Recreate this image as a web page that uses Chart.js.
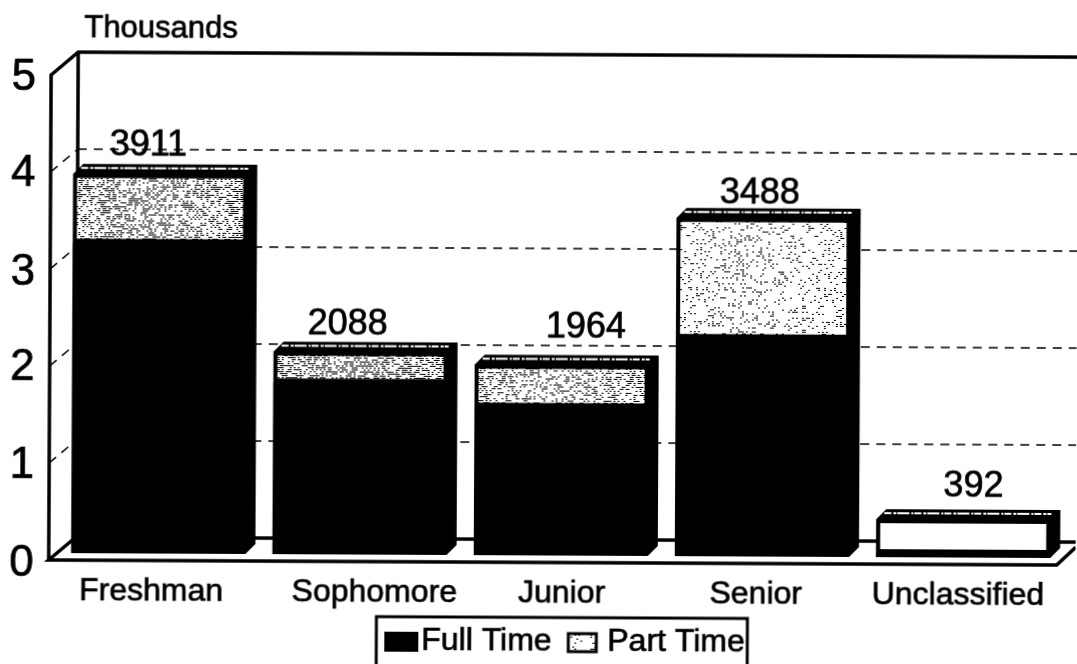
<!DOCTYPE html>
<html>
<head>
<meta charset="utf-8">
<style>
html,body{margin:0;padding:0;background:#fff;width:1077px;height:664px;overflow:hidden}
#wrap{position:absolute;left:0;top:0;width:1077px;height:664px;transform:rotate(0.286deg);transform-origin:50px 300px}
canvas{display:block}
</style>
<script src="https://cdn.jsdelivr.net/npm/chart.js@4"></script>
</head>
<body>
<div id="wrap"><canvas id="c" width="1077" height="664"></canvas></div>
<script>
const categories = ['Freshman', 'Sophomore', 'Junior', 'Senior', 'Unclassified'];
const fullTime = [3200, 1770, 1530, 2250, 40];
const partTime = [711, 318, 434, 1238, 352];
const totals = [3911, 2088, 1964, 3488, 392];
const seriesNames = ['Full Time', 'Part Time'];
const yTicks = [0, 1000, 2000, 3000, 4000, 5000];
const unitLabel = 'Thousands';

const FONT = '"Liberation Sans", Arial, sans-serif';

function speckle(density) {
  const size = 128, t = document.createElement('canvas');
  t.width = t.height = size;
  const g = t.getContext('2d');
  g.fillStyle = '#fff'; g.fillRect(0, 0, size, size);
  g.fillStyle = '#000';
  for (let j = 0; j < size; j += 2) for (let i = 0; i < size; i += 2) {
    const h = Math.sin(i * 12.9898 + j * 78.233) * 43758.5453;
    if (h - Math.floor(h) < density) g.fillRect(i, j, 2, 1);
  }
  return g.createPattern(t, 'repeat');
}
const ctxMain = document.getElementById('c').getContext('2d');
const partFills = [speckle(0.45), speckle(0.5), speckle(0.34), speckle(0.17), '#ffffff'];
const legendFill = speckle(0.15);

const DEPTH = 10;
const BACK = {dx: 18, dy: -16};
const FRONT = {dx: -9, dy: 7};
const labelNudge = [[-12, -2], [-13, 0], [24, -10], [-4, 2], [10, -6]];
const xLabelNudge = [-7, 15, 1, -6, -5];
const yLabelNudge = [11, 10, 9, 11, 9, 10];
const INK = 0.7;

function inkText(ctx, s, x, y) {
  ctx.fillText(s, x, y);
  ctx.strokeText(s, x, y);
}

const scene = {
  id: 'scene',
  beforeDraw(chart) {
    const {x, y} = chart.scales;
    x.getLabelItems().forEach((it, i) => { it.options.translation[0] += xLabelNudge[i]; });
    y.getLabelItems().forEach((it, i) => { it.options.translation[1] += yLabelNudge[i]; });
  },
  beforeDatasetsDraw(chart) {
    const {ctx, chartArea: a, scales: {y}} = chart;
    const yb = y.getPixelForValue(0), yt = y.getPixelForValue(5000);
    const W = chart.width;
    ctx.save();
    ctx.strokeStyle = '#000'; ctx.lineCap = 'butt';
    ctx.lineWidth = 1.5; ctx.setLineDash([9, 7]);
    yTicks.slice(1, -1).forEach(v => {
      const p = y.getPixelForValue(v);
      ctx.beginPath();
      ctx.moveTo(a.left + BACK.dx, p + BACK.dy);
      ctx.lineTo(W, p + BACK.dy);
      ctx.stroke();
      ctx.beginPath();
      ctx.moveTo(a.left + FRONT.dx, p + FRONT.dy);
      ctx.lineTo(a.left + BACK.dx, p + BACK.dy);
      ctx.stroke();
    });
    ctx.setLineDash([]);
    ctx.lineWidth = 3.5;
    ctx.beginPath();
    ctx.moveTo(a.left + FRONT.dx, yb + FRONT.dy);
    ctx.lineTo(a.left + FRONT.dx, yt + FRONT.dy);
    ctx.lineTo(a.left + BACK.dx, yt + BACK.dy);
    ctx.lineTo(W, yt + BACK.dy);
    ctx.moveTo(a.left + BACK.dx, yt + BACK.dy);
    ctx.lineTo(a.left + BACK.dx, yb + BACK.dy);
    ctx.lineTo(W, yb + BACK.dy);
    ctx.moveTo(a.left + BACK.dx, yb + BACK.dy);
    ctx.lineTo(a.left + FRONT.dx, yb + FRONT.dy);
    ctx.lineTo(a.right - 7, yb + FRONT.dy);
    ctx.lineTo(W, yb + BACK.dy + 5);
    ctx.stroke();
    const low = chart.getDatasetMeta(0).data, high = chart.getDatasetMeta(1).data;
    high.forEach((bar, i) => {
      const x0 = bar.x - bar.width / 2, x1 = bar.x + bar.width / 2;
      const top = bar.y, bot = low[i].base;
      ctx.fillStyle = '#000';
      ctx.beginPath();
      ctx.moveTo(x0, top);
      ctx.lineTo(x0 + DEPTH, top - DEPTH);
      ctx.lineTo(x1 + DEPTH, top - DEPTH);
      ctx.lineTo(x1 + DEPTH, bot - DEPTH);
      ctx.lineTo(x1, bot);
      ctx.lineTo(x0, bot);
      ctx.closePath();
      ctx.fill();
      ctx.strokeStyle = '#fff'; ctx.lineWidth = 2; ctx.setLineDash([7, 2, 3, 1, 12, 2, 2, 1]);
      ctx.beginPath();
      ctx.moveTo(x0 + 8, top - 6);
      ctx.lineTo(x1 + 1, top - 6);
      ctx.stroke();
      ctx.setLineDash([]);
    });
    ctx.restore();
  },
  afterDraw(chart) {
    const {ctx} = chart;
    const high = chart.getDatasetMeta(1).data;
    ctx.save();
    ctx.fillStyle = '#000';
    ctx.strokeStyle = '#000';
    ctx.lineWidth = INK;
    ctx.textBaseline = 'middle';
    ctx.textAlign = 'center';
    ctx.font = '36px ' + FONT;
    high.forEach((bar, i) => {
      inkText(ctx, String(totals[i]), bar.x + labelNudge[i][0], bar.y - DEPTH - 17 + labelNudge[i][1]);
    });
    ctx.textAlign = 'left';
    ctx.font = '31px ' + FONT;
    inkText(ctx, unitLabel, 83, 28);
    ctx.font = '32px ' + FONT;
    inkText(ctx, seriesNames[0], 423, 639);
    inkText(ctx, seriesNames[1], 609, 639);
    ctx.lineWidth = 3;
    ctx.strokeRect(378, 615, 371, 52);
    ctx.fillRect(386, 630, 34, 20);
    ctx.fillStyle = legendFill;
    ctx.fillRect(570, 631, 28, 18);
    ctx.strokeRect(570, 631, 28, 18);
    ctx.restore();
  }
};

new Chart(ctxMain, {
  type: 'bar',
  data: {
    labels: categories,
    datasets: [
      {label: seriesNames[0], data: fullTime, backgroundColor: '#000', borderWidth: 0},
      {label: seriesNames[1], data: partTime, backgroundColor: partFills, borderColor: '#000', borderWidth: 4, borderSkipped: false}
    ]
  },
  options: {
    responsive: false,
    animation: false,
    layout: {padding: {top: 68, right: 12, left: 0, bottom: 0}},
    plugins: {legend: {display: false}, title: {display: false}, tooltip: {enabled: false}},
    datasets: {bar: {barPercentage: 0.865, categoryPercentage: 1}},
    scales: {
      x: {
        stacked: true,
        grid: {display: false, drawTicks: false},
        border: {display: false},
        afterFit(s) { s.height = 111; },
        ticks: {color: '#000', font: {family: FONT, size: 32}, padding: 19, maxRotation: 0, autoSkip: false, textStrokeColor: '#000', textStrokeWidth: INK}
      },
      y: {
        stacked: true,
        min: 0, max: 5000,
        afterFit(s) { s.width = 59; },
        afterBuildTicks(s) { s.ticks = yTicks.map(v => ({value: v})); },
        grid: {display: false, drawTicks: false},
        border: {display: false},
        ticks: {
          color: '#000',
          padding: 24,
          font: {family: FONT, size: 44},
          textStrokeColor: '#000',
          textStrokeWidth: INK,
          callback: v => String(v / 1000)
        }
      }
    }
  },
  plugins: [scene]
});
</script>
</body>
</html>
